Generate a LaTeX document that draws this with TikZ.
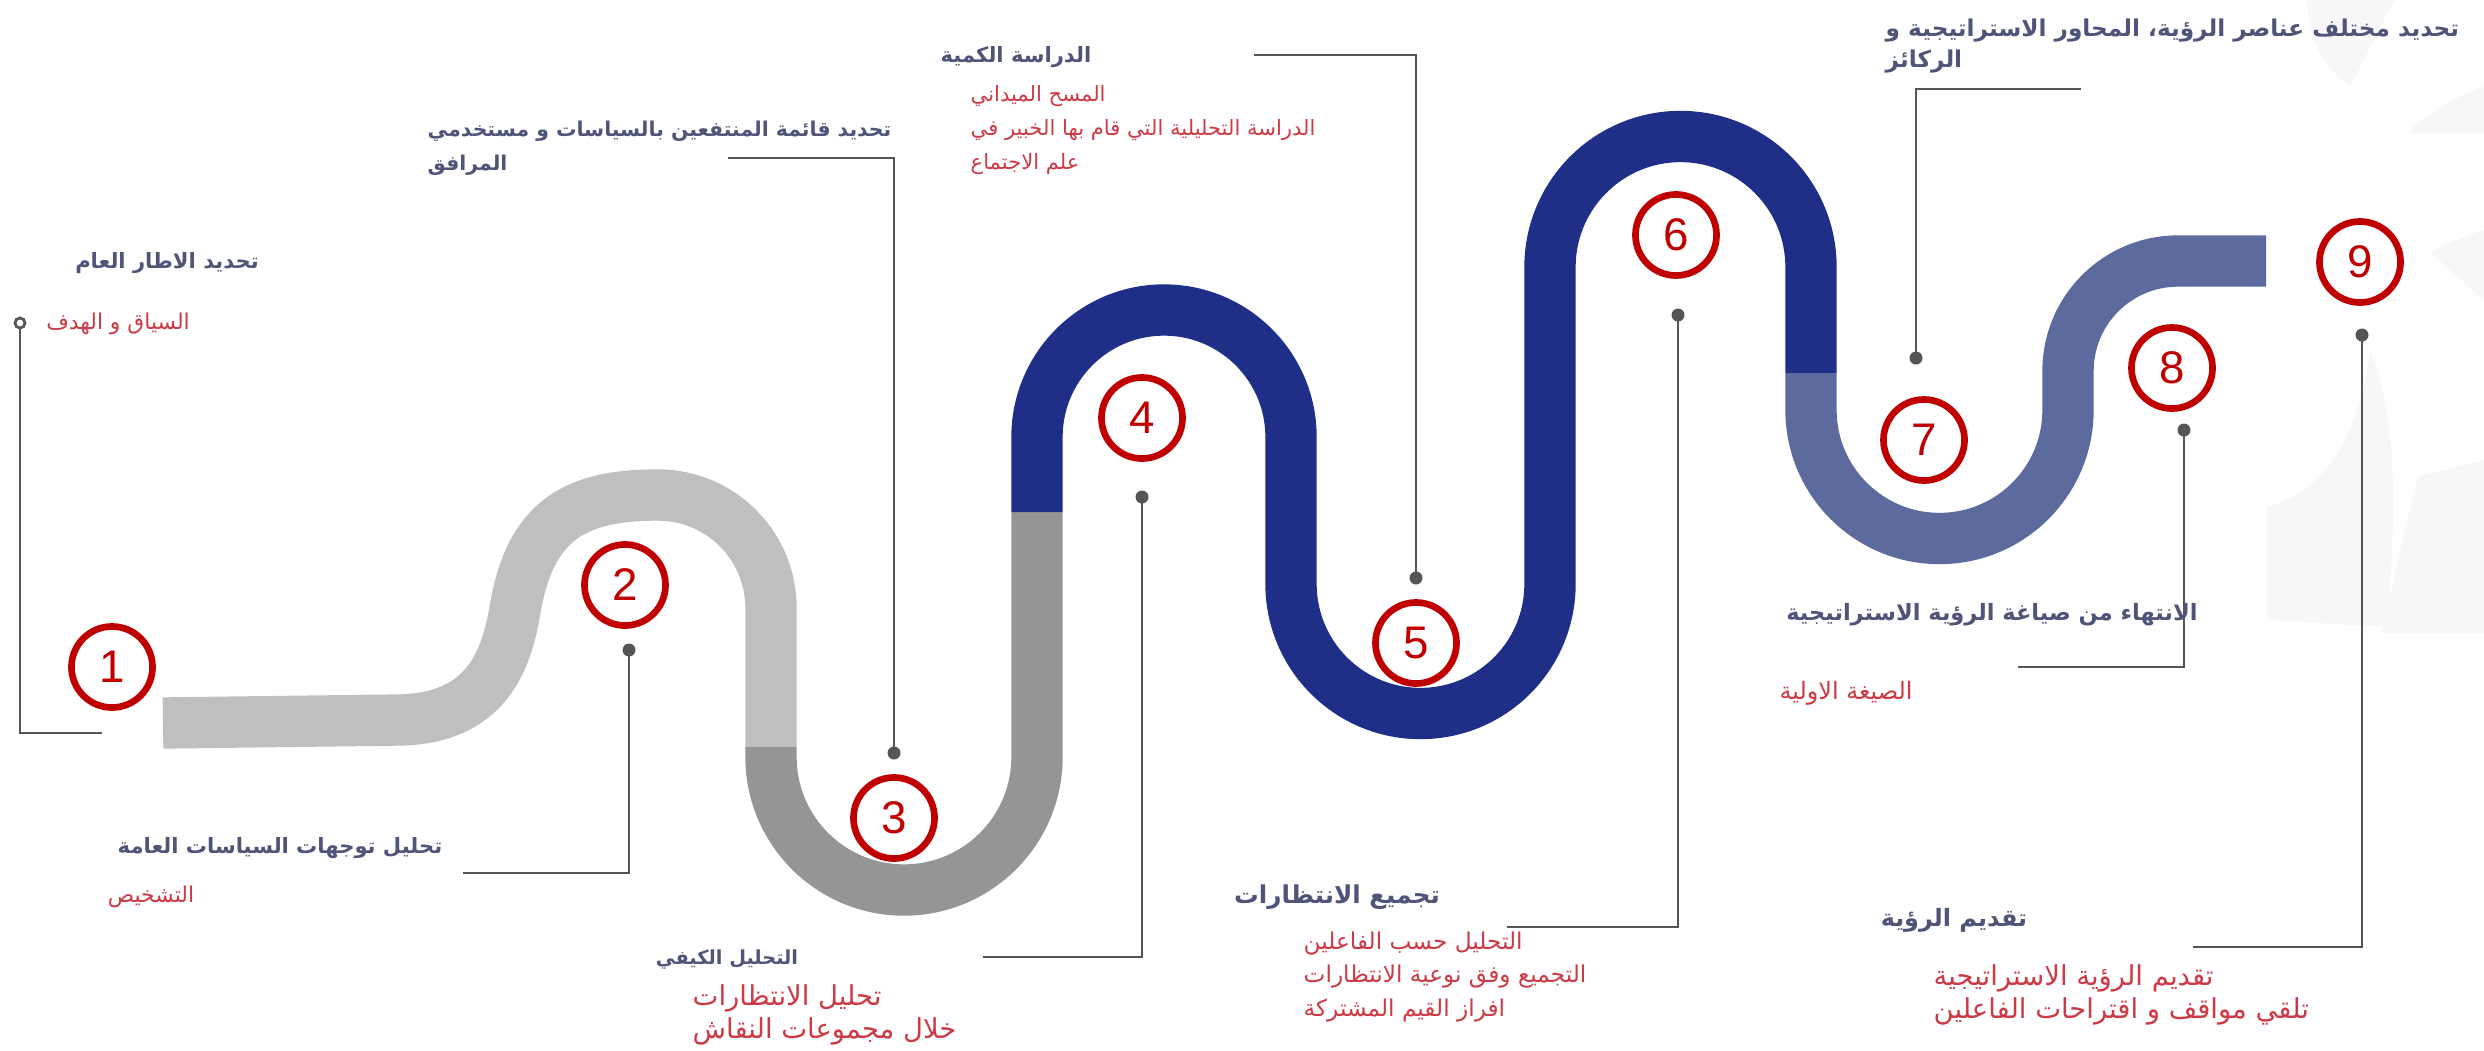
\documentclass[tikz,border=0pt]{standalone}
\usepackage{fontspec}
\setmainfont{Liberation Sans}
\newfontfamily\arabicfont[Script=Arabic]{DejaVu Sans}
\TeXXeTstate=1
\usepackage{tikz}
\usetikzlibrary{positioning}
\usepackage{xcolor}

\definecolor{bandA}{HTML}{BEBFC1}
\definecolor{bandB}{HTML}{959595}
\definecolor{bandC}{HTML}{1F2E86}
\definecolor{bandD}{HTML}{5C6A9E}
\definecolor{numred}{HTML}{C00000}
\definecolor{ttlcol}{HTML}{4F5579}
\definecolor{subcol}{HTML}{CC3B45}
\definecolor{leadcol}{HTML}{555555}

\newcommand{\ar}[1]{\beginR #1\endR}
\newcommand{\fsz}[1]{\fontsize{#1}{9.6}\selectfont}

\tikzset{
  band/.style={line width=14.6pt, line cap=butt, line join=round},
  num/.style={circle, draw=numred, line width=1.9pt, fill=white, minimum size=0.81cm,
    inner sep=0pt, text=numred, font=\fontsize{13}{13}\selectfont},
  dot/.style={circle, fill=leadcol, inner sep=0pt, minimum size=0.13cm},
  ring/.style={circle, draw=leadcol, line width=0.8pt, fill=white, inner sep=0pt, minimum size=0.1cm},
  lead/.style={draw=leadcol, line width=0.6pt},
  ttl/.style={text=ttlcol, inner sep=0pt, font=\arabicfont\bfseries\fsz{6}},
  sub/.style={text=subcol, inner sep=0pt, font=\arabicfont\fsz{6.2}},
  petal/.style={fill=black!3, draw=none}
}

\begin{document}
\begin{tikzpicture}[x=0.01cm, y=0.01cm]

  \useasboundingbox (0,0) rectangle (2484,1050);

  % faint background petals
  \fill[petal] (2307,1050) .. controls (2310,1000) and (2330,980) .. (2350,963) -- (2394,1050) -- cycle;
  \fill[petal] (2407,917) .. controls (2430,940) and (2460,955) .. (2484,963) -- (2484,917) -- cycle;
  \fill[petal] (2431,797) .. controls (2450,810) and (2470,815) .. (2484,820) -- (2484,750) -- cycle;
  \fill[petal] (2267,430) -- (2267,543) .. controls (2330,560) and (2360,620) .. (2370,700)
    .. controls (2395,640) and (2398,560) .. (2387,423) -- cycle;
  \fill[petal] (2381,417) .. controls (2395,480) and (2410,540) .. (2418,573)
    .. controls (2440,580) and (2465,585) .. (2484,590) -- (2484,417) -- cycle;

  % road
  \draw[band, bandA] (163,327) -- (400,330) .. controls (480,332) and (505,380) .. (515,440)
    .. controls (530,530) and (575,555) .. (658,555)
    arc[start angle=90, end angle=0, radius=113] -- (771,303);
  \draw[band, bandB] (771,303) -- (771,293)
    arc[start angle=180, end angle=360, radius=133] -- (1037,538);
  \draw[band, bandC] (1037,538) -- (1037,613)
    arc[start angle=180, end angle=0, radius=127] -- (1291,466)
    arc[start angle=180, end angle=360, radius=129.5] -- (1550,783)
    arc[start angle=180, end angle=0, radius=130.5] -- (1811,677);
  \draw[band, bandD] (1811,677) -- (1811,640)
    arc[start angle=180, end angle=360, radius=128.5] -- (2068,679)
    arc[start angle=180, end angle=90, radius=110] -- (2266,789);

  % step numbers
  \node[num] (n1) at (112,383) {1};
  \node[num] (n2) at (625,465) {2};
  \node[num] (n3) at (894,232) {3};
  \node[num] (n4) at (1142,632) {4};
  \node[num] (n5) at (1416,407) {5};
  \node[num] (n6) at (1676,815) {6};
  \node[num] (n7) at (1924,610) {7};
  \node[num] (n8) at (2172,682) {8};
  \node[num] (n9) at (2360,788) {9};

  % leader ends
  \coordinate (e1) at (102,317);
  \coordinate (e2) at (463,177);
  \coordinate (e3) at (728,892);
  \coordinate (e4) at (983,93);
  \coordinate (e5) at (1254,995);
  \coordinate (e6) at (1507,123);
  \coordinate (e7) at (2081,961);
  \coordinate (e8) at (2018,383);
  \coordinate (e9) at (2193,103);

  % leaders
  \node[ring] (d1) at (20,727) {};
  \draw[lead] (d1.south) |- (e1);
  \foreach \i/\x/\y in {2/629/400, 3/894/297, 4/1142/553, 5/1416/472,
                        6/1678/735, 7/1916/692, 8/2184/620, 9/2362/715}{
    \coordinate (d\i) at (\x,\y);
    \draw[lead] (d\i) |- (e\i);
    \node[dot] at (d\i) {};
  }

  % texts
  \node[ttl] (t1) at (167,787) {\ar{تحديد الاطار العام}};
  \node[sub] (s1) at (118,726) {\ar{السياق و الهدف}};

  \node[ttl] (t2) at (280,202) {\ar{تحليل توجهات السياسات العامة}};
  \node[sub] (s2) at (151,153) {\ar{التشخيص}};

  \node[ttl, font=\arabicfont\bfseries\fsz{5.8}, align=left, anchor=west] (t3) at (427,902)
    {\ar{تحديد قائمة المنتفعين بالسياسات و مستخدمي}\\\ar{المرافق}};

  \node[ttl, font=\arabicfont\bfseries\fsz{5.5}] (t4) at (727,90) {\ar{التحليل الكيفي}};
  \node[sub, font=\arabicfont\fsz{7.8}, align=left, anchor=west] (s4) at (692,35)
    {\ar{تحليل الانتظارات}\\\ar{خلال مجموعات النقاش}};

  \node[ttl] (t5) at (1016,993) {\ar{الدراسة الكمية}};
  \node[sub, font=\arabicfont\fsz{6}, align=left, anchor=west] (s5) at (970,920)
    {\ar{المسح الميداني}\\\ar{الدراسة التحليلية التي قام بها الخبير في}\\\ar{علم الاجتماع}};

  \node[ttl, font=\arabicfont\bfseries\fsz{7}] (t6) at (1337,153) {\ar{تجميع الانتظارات}};
  \node[sub, font=\arabicfont\fsz{6.6}, align=left, anchor=west] (s6) at (1303,73)
    {\ar{التحليل حسب الفاعلين}\\\ar{التجميع وفق نوعية الانتظارات}\\\ar{افراز القيم المشتركة}};

  \node[ttl, font=\arabicfont\bfseries\fontsize{6.6}{8.8}\selectfont, align=left, anchor=west] (t7) at (1885,1004)
    {\ar{تحديد مختلف عناصر الرؤية، المحاور الاستراتيجية و}\\\ar{الركائز}};

  \node[ttl, font=\arabicfont\bfseries\fsz{6.4}] (t8) at (1992,435) {\ar{الانتهاء من صياغة الرؤية الاستراتيجية}};
  \node[sub, font=\arabicfont\fsz{6.8}] (s8) at (1846,357) {\ar{الصيغة الاولية}};

  \node[ttl, font=\arabicfont\bfseries\fsz{6.8}] (t9) at (1954,130) {\ar{تقديم الرؤية}};
  \node[sub, font=\arabicfont\fsz{7.8}, align=left, anchor=west] (s9) at (1933,55)
    {\ar{تقديم الرؤية الاستراتيجية}\\\ar{تلقي مواقف و اقتراحات الفاعلين}};

\end{tikzpicture}
\end{document}
